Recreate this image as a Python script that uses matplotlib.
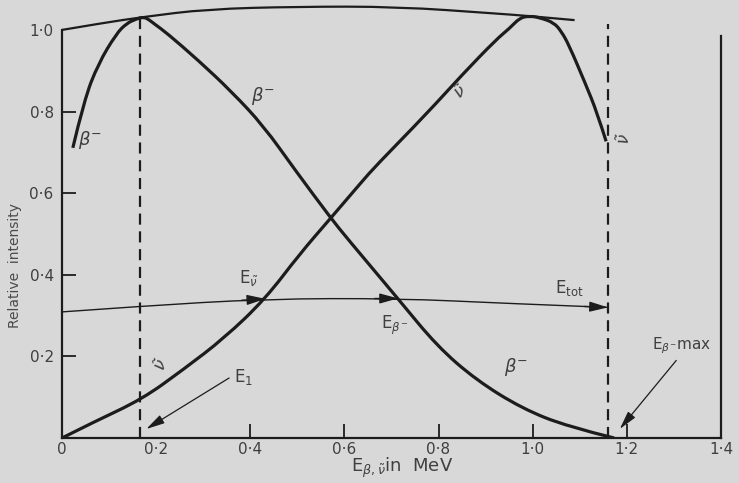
import matplotlib.pyplot as plt
from matplotlib.path import Path
from matplotlib.patches import PathPatch

# beta- spectrum: relative intensity against energy in MeV
beta_E = [0.023, 0.047, 0.077, 0.115, 0.137, 0.158, 0.174, 0.186, 0.197, 0.222,
          0.290, 0.360, 0.428, 0.495, 0.571, 0.606, 0.714, 0.797, 0.880, 0.978,
          1.074, 1.173]
beta_I = [0.711, 0.828, 0.917, 0.990, 1.016, 1.027, 1.032, 1.024, 1.014, 0.993,
          0.925, 0.849, 0.765, 0.657, 0.539, 0.489, 0.341, 0.225, 0.142, 0.072,
          0.028, 0.0]

# antineutrino spectrum
nu_E = [0.0, 0.069, 0.170, 0.258, 0.345, 0.432, 0.505, 0.571, 0.637, 0.666,
        0.775, 0.850, 0.922, 0.951, 0.973, 0.994, 1.015, 1.045, 1.061, 1.077,
        1.111, 1.137, 1.156]
nu_I = [0.0, 0.040, 0.095, 0.168, 0.245, 0.341, 0.451, 0.539, 0.628, 0.666,
        0.795, 0.890, 0.976, 1.004, 1.030, 1.034, 1.030, 1.018, 0.996, 0.963,
        0.871, 0.797, 0.727]

# curve over the two peaks
top_E = [0.0, 0.087, 0.174, 0.308, 0.5, 0.712, 0.924, 0.994, 1.089]
top_I = [1.0, 1.017, 1.032, 1.051, 1.057, 1.057, 1.040, 1.034, 1.024]

# energy sharing line, arrowheads at the listed points
share_E = [0.0, 0.168, 0.432, 0.714, 0.94, 1.16]
share_I = [0.309, 0.323, 0.341, 0.342, 0.330, 0.320]
arrow_at = [2, 3, 5]

E1 = 0.165
E1_top = 1.03
E_tot = 1.16
E_tot_top = 1.015
E_right_top = 0.985

x_ticks = [0, 0.2, 0.4, 0.6, 0.8, 1.0, 1.2, 1.4]
x_labels = ['0', '0·2', '0·4', '0·6', '0·8', '1·0', '1·2', '1·4']
y_ticks = [0.2, 0.4, 0.6, 0.8, 1.0]
y_labels = ['0·2', '0·4', '0·6', '0·8', '1·0']

paper = '#d8d8d8'
ink = '#1c1c1c'
grey = '#3f3f3f'


def smooth(xs, ys):
    """Quadratic bezier through the midpoints, each reading as control point."""
    pts = list(zip(xs, ys))
    verts = [pts[0]]
    codes = [Path.MOVETO]
    n = len(pts)
    for i in range(1, n - 1):
        if i == n - 2:
            end = pts[-1]
        else:
            end = ((pts[i][0] + pts[i + 1][0]) / 2, (pts[i][1] + pts[i + 1][1]) / 2)
        verts += [pts[i], end]
        codes += [Path.CURVE3, Path.CURVE3]
    return Path(verts, codes)


def draw_curve(ax, xs, ys, lw):
    ax.add_patch(PathPatch(smooth(xs, ys), fill=False, edgecolor=ink, lw=lw,
                           capstyle='butt', joinstyle='round'))


fig = plt.figure(figsize=(7.39, 4.83), dpi=100, facecolor=paper)
ax = fig.add_axes([0.0839, 0.0932, 0.8917, 0.904])
ax.set_facecolor(paper)
ax.set_xlim(0, 1.4)
ax.set_ylim(0, 1.07)

# axes frame: left up to 1.0, right side line, no top
for side in ['left', 'bottom', 'right']:
    ax.spines[side].set_linewidth(1.6)
    ax.spines[side].set_color(ink)
ax.spines['top'].set_visible(False)
ax.spines['left'].set_bounds(0, 1.0)
ax.spines['bottom'].set_bounds(0, 1.4)
ax.spines['right'].set_bounds(0, E_right_top)

ax.set_xticks(x_ticks, x_labels)
ax.set_yticks(y_ticks, y_labels)
ax.tick_params(direction='in', length=10, width=1.3, color=ink,
               labelsize=11, labelcolor=grey)
ax.tick_params(axis='x', pad=3)
ax.tick_params(axis='y', pad=6)
xt = ax.xaxis.get_major_ticks()
for k in [0, 1, 7]:
    xt[k].tick1line.set_visible(False)
ax.yaxis.get_major_ticks()[-1].tick1line.set_visible(False)

draw_curve(ax, top_E, top_I, 1.6)
draw_curve(ax, share_E, share_I, 1.0)

head = dict(arrowstyle='-|>,head_length=0.8,head_width=0.22', color=ink,
            lw=1.0, shrinkA=0, shrinkB=0, mutation_scale=14)
for i in arrow_at:
    slope = (share_I[i] - share_I[i - 1]) / (share_E[i] - share_E[i - 1])
    ax.annotate('', xy=(share_E[i], share_I[i]),
                xytext=(share_E[i] - 0.05, share_I[i] - 0.05 * slope),
                arrowprops=head)

dash = (0, (5, 3))
ax.plot([E1, E1], [0, E1_top], color=ink, lw=1.6, linestyle=dash)
ax.plot([E_tot, E_tot], [0, E_tot_top], color=ink, lw=1.6, linestyle=dash)

draw_curve(ax, beta_E, beta_I, 2.3)
draw_curve(ax, nu_E, nu_I, 2.3)

# pointers to E1 and the end point
thin = dict(arrowstyle='-|>,head_length=0.8,head_width=0.2', color=ink,
            lw=0.9, shrinkA=0, shrinkB=0, mutation_scale=14)
ax.annotate('', xy=(0.179, 0.022), xytext=(0.355, 0.147), arrowprops=thin)
ax.annotate('', xy=(1.185, 0.022), xytext=(1.305, 0.19), arrowprops=thin)

lab = dict(color=grey, ha='center', va='center')
ax.text(0.06, 0.73, r'$\beta^{-}$', fontsize=13, **lab)
ax.text(0.428, 0.839, r'$\beta^{-}$', fontsize=13, **lab)
ax.text(0.965, 0.175, r'$\beta^{-}$', fontsize=13, **lab)
ax.text(0.845, 0.844, r'$\tilde{\nu}$', fontsize=12, rotation=30, **lab)
ax.text(1.196, 0.731, r'$\tilde{\nu}$', fontsize=12, rotation=80, **lab)
ax.text(0.212, 0.177, r'$\tilde{\nu}$', fontsize=12, rotation=60, **lab)
ax.text(0.365, 0.15, r'E$_1$', fontsize=12, color=grey, ha='left', va='center')
ax.text(0.397, 0.391, r'E$_{\tilde{\nu}}$', fontsize=12, **lab)
ax.text(0.706, 0.277, r'E$_{\beta^{-}}$', fontsize=12, **lab)
ax.text(1.077, 0.367, r'E$_{\rm tot}$', fontsize=12, **lab)
ax.text(1.317, 0.226, r'E$_{\beta^{-}}$max', fontsize=11, **lab)

ax.text(0.516, -0.069, r'E$_{\beta,\tilde{\nu}}$in  MeV', fontsize=13,
        transform=ax.transAxes, clip_on=False, **lab)
ax.text(-0.071, 0.396, 'Relative  intensity', fontsize=10, rotation=90,
        transform=ax.transAxes, clip_on=False, color='#4a4a4a',
        ha='center', va='center')

fig.savefig('out.png', dpi=100, facecolor=paper)
